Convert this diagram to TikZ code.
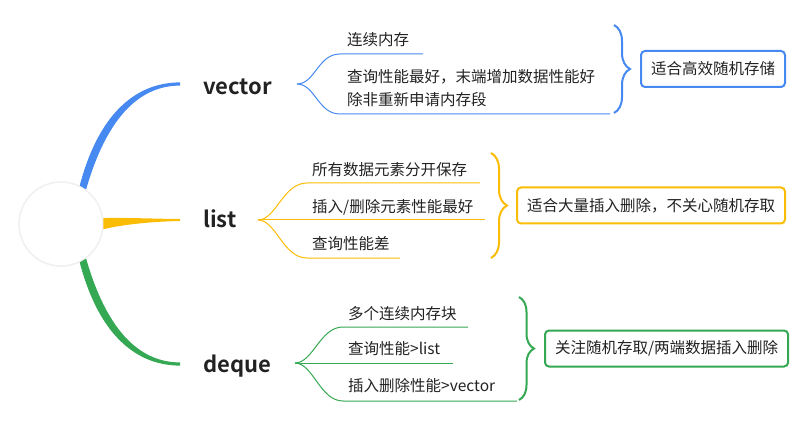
\documentclass[tikz,border=0pt]{standalone}
\usepackage{fontspec}
\setmainfont{Noto Sans CJK SC}[BoldFont={* Bold}]
\usetikzlibrary{positioning,decorations.pathreplacing,shadows}
\definecolor{vecblue}{HTML}{4689F0}
\definecolor{lstyellow}{HTML}{FBBC05}
\definecolor{deqgreen}{HTML}{34A853}
\definecolor{inkgray}{HTML}{222222}
\begin{document}
\begin{tikzpicture}[x=1pt,y=-1pt,
    lvlone/.style={font=\fontsize{22}{26}\selectfont\bfseries,text=inkgray,inner sep=0pt,anchor=base west},
    leaf/.style={font=\fontsize{15.5}{23}\selectfont,text=inkgray,inner sep=0pt,anchor=west,align=left},
    twig/.style={line width=1pt},
    curly/.style={decorate,decoration={brace,amplitude=#1},line width=2pt},
    sumbox/.style={draw=#1,line width=2pt,rounded corners=4pt,fill=white,font=\fontsize{15.5}{20}\selectfont,text=inkgray,inner xsep=10pt,minimum height=36pt}]
    \useasboundingbox (0,0) rectangle (812,425);

    % root
    \node[circle,minimum size=84pt,fill=white,draw=black!6,line width=1.5pt,drop shadow={opacity=0.06,shadow xshift=0pt,shadow yshift=-1pt}] (root) at (61,224) {};

    % main branches
    \coordinate (vecend) at (180,84);
    \coordinate (lstend) at (180,220);
    \coordinate (deqend) at (180,364);
    \fill[vecblue] (root.64) .. controls (98,116) and (134,82.5) .. ([yshift=1.6pt]vecend) -- ([yshift=-1.6pt]vecend) .. controls (138,85.5) and (106,120) .. (root.54) -- cycle;
    \fill[lstyellow] (root.8) .. controls (130,217.5) and (160,219) .. ([yshift=1pt]lstend) -- ([yshift=-1pt]lstend) .. controls (155,221.5) and (125,224) .. (root.-7) -- cycle;
    \fill[deqgreen] (root.-64) .. controls (98,332) and (134,365.5) .. ([yshift=-1.6pt]deqend) -- ([yshift=1.6pt]deqend) .. controls (138,362.5) and (106,328) .. (root.-54) -- cycle;

    \node[lvlone] (vec) at (203,95) {vector};
    \node[lvlone] (lst) at (203,228) {list};
    \node[lvlone] (deq) at (203,372) {deque};

    % vector
    \coordinate (vecfork) at (297,84);
    \coordinate (vecup) at (423,54);
    \coordinate (veclow) at (610,114);
    \draw[twig,vecblue] (vecfork) .. controls (315,84) and (318,54) .. (340,54) -- (vecup);
    \draw[twig,vecblue] (vecfork) .. controls (315,84) and (318,114) .. (340,114) -- (veclow);
    \node[leaf] (vecmem) at (347,40) {连续内存};
    \node[leaf] (vecquery) at (347,88.5) {查询性能最好，末端增加数据性能好\\除非重新申请内存段};
    \draw[curly=16pt,vecblue] (614,25) -- (614,113) coordinate[pos=0.5,xshift=16pt] (vectip);
    \node[sumbox=vecblue,right=10pt of vectip] (vecsum) {适合高效随机存储};

    % list
    \coordinate (lstfork) at (258,220);
    \coordinate (lstup) at (480,183);
    \coordinate (lstmid) at (485,220);
    \coordinate (lstlow) at (400,258);
    \draw[twig,lstyellow] (lstfork) .. controls (276,220) and (283,183) .. (307,183) -- (lstup);
    \draw[twig,lstyellow] (lstfork) -- (lstmid);
    \draw[twig,lstyellow] (lstfork) .. controls (276,220) and (283,258) .. (307,258) -- (lstlow);
    \node[leaf] (lstsep) at (312,169.5) {所有数据元素分开保存};
    \node[leaf] (lstins) at (312,207) {插入/删除元素性能最好};
    \node[leaf] (lstquery) at (312,243.5) {查询性能差};
    \draw[curly=16pt,lstyellow] (491,153) -- (491,258) coordinate[pos=0.5,xshift=16pt] (lsttip);
    \node[sumbox=lstyellow,right=9pt of lsttip] (lstsum) {适合大量插入删除，不关心随机存取};

    % deque
    \coordinate (deqfork) at (295,363);
    \coordinate (dequp) at (468,327);
    \coordinate (deqmid) at (453,363);
    \coordinate (deqlow) at (517,401);
    \draw[twig,deqgreen] (deqfork) .. controls (313,363) and (320,327) .. (343,327) -- (dequp);
    \draw[twig,deqgreen] (deqfork) -- (deqmid);
    \draw[twig,deqgreen] (deqfork) .. controls (313,363) and (320,401) .. (343,401) -- (deqlow);
    \node[leaf] (deqblk) at (348,313.5) {多个连续内存块};
    \node[leaf] (deqquery) at (348,349) {查询性能>list};
    \node[leaf] (deqins) at (348,386) {插入删除性能>vector};
    \draw[curly=15pt,deqgreen] (519,297) -- (519,400) coordinate[pos=0.5,xshift=15pt] (deqtip);
    \node[sumbox=deqgreen,right=10pt of deqtip] (deqsum) {关注随机存取/两端数据插入删除};
\end{tikzpicture}
\end{document}
